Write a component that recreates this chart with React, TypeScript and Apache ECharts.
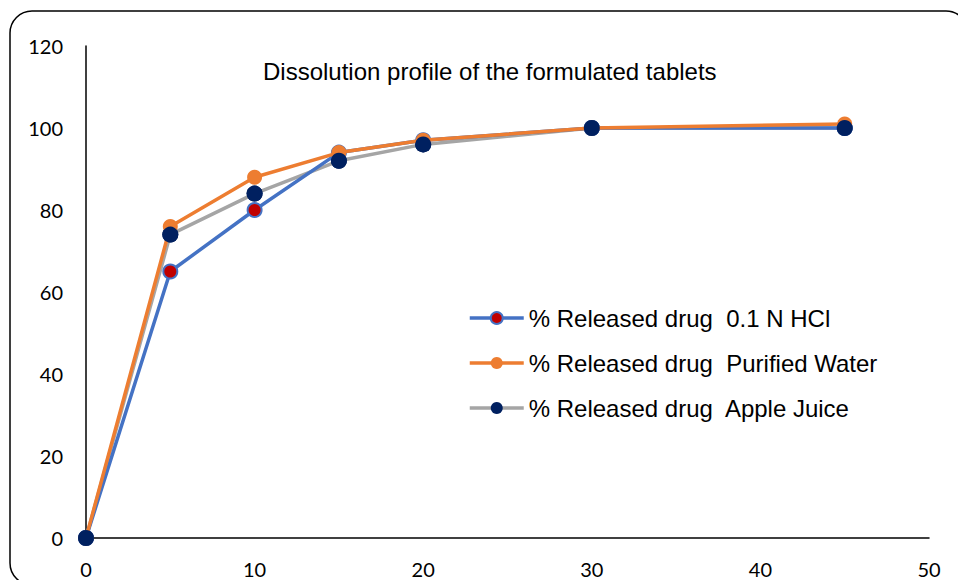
import React, { useEffect, useRef } from "react";
import * as echarts from "echarts";

const times = [0, 5, 10, 15, 20, 30, 45];
const hclValues = [0, 65, 80, 94, 97, 100, 100];
const waterValues = [0, 76, 88, 94, 97, 100, 101];
const appleValues = [0, 74, 84, 92, 96, 100, 100];

const seriesNames = [
  "% Released drug  0.1 N HCl",
  "% Released drug  Purified Water",
  "% Released drug  Apple Juice",
];
const titleText = "Dissolution profile of the formulated tablets";

const pairs = (vals: number[]) => times.map((t, i) => [t, vals[i]]);

export default function App() {
  const ref = useRef<HTMLDivElement>(null);
  useEffect(() => {
    if (!ref.current) return;
    const chart = echarts.init(ref.current, null, { renderer: "svg" });
    const tickFont = { fontFamily: "Lato", fontSize: 20, color: "#000" };
    chart.setOption({
      animation: false,
      backgroundColor: "#fff",
      title: {
        text: titleText,
        left: 263,
        top: 59,
        padding: 0,
        textStyle: { fontFamily: "Liberation Sans", fontSize: 24, fontWeight: "normal", color: "#000" },
      },
      graphic: [
        {
          type: "rect",
          shape: { x: 10, y: 11, width: 958, height: 574, r: 22 },
          style: { fill: "none", stroke: "#000", lineWidth: 1.5 },
          z: 0,
        },
      ],
      legend: {
        data: seriesNames,
        orient: "vertical",
        left: 468,
        top: 306,
        padding: 0,
        itemWidth: 54,
        itemHeight: 15,
        itemGap: 21,
        lineStyle: { width: 3.5 },
        textStyle: { fontFamily: "Liberation Sans", fontSize: 24, color: "#000" },
      },
      grid: { left: 86, right: 29, top: 46, bottom: 42, containLabel: false },
      xAxis: {
        type: "value",
        min: 0,
        max: 50,
        interval: 10,
        axisLine: { show: true, lineStyle: { color: "#000", width: 1.5 } },
        axisTick: { show: false },
        splitLine: { show: false },
        axisLabel: { ...tickFont, margin: 21 },
      },
      yAxis: {
        type: "value",
        min: 0,
        max: 120,
        interval: 20,
        axisLine: { show: true, lineStyle: { color: "#000", width: 1.5 } },
        axisTick: { show: false },
        splitLine: { show: false },
        axisLabel: { ...tickFont, margin: 23 },
      },
      series: [
        {
          name: seriesNames[2],
          type: "line",
          data: pairs(appleValues),
          z: 2,
          symbol: "circle",
          symbolSize: 16,
          lineStyle: { color: "#A5A5A5", width: 3.5 },
          itemStyle: { color: "#002060", borderColor: "#002060", borderWidth: 0, opacity: 1 },
        },
        {
          name: seriesNames[0],
          type: "line",
          data: pairs(hclValues),
          z: 3,
          symbol: "circle",
          symbolSize: 14,
          lineStyle: { color: "#4472C4", width: 3.5 },
          itemStyle: { color: "#C00000", borderColor: "#4472C4", borderWidth: 2, opacity: 1 },
        },
        {
          name: seriesNames[1],
          type: "line",
          data: pairs(waterValues),
          z: 4,
          symbol: "circle",
          symbolSize: 15,
          lineStyle: { color: "#ED7D31", width: 3.5 },
          itemStyle: { color: "#ED7D31", borderWidth: 0, opacity: 1 },
        },
        {
          name: "appleMarkers",
          type: "scatter",
          data: pairs(appleValues),
          z: 5,
          symbol: "circle",
          symbolSize: 16,
          itemStyle: { color: "#002060", opacity: 1 },
          silent: true,
        },
      ],
    });
    return () => chart.dispose();
  }, []);
  return (
    <div
      ref={ref}
      style={{ position: "fixed", left: 0, top: 0, width: 958, height: 580, background: "#fff" }}
    />
  );
}
